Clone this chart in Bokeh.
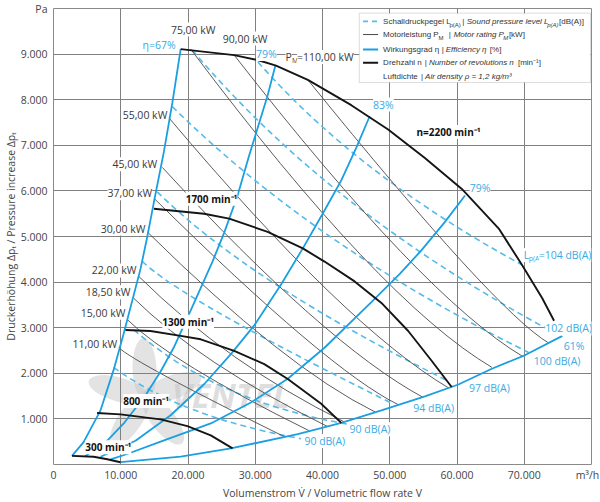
import math
from bokeh.plotting import figure
from bokeh.models import Label, BoxAnnotation, FixedTicker, Range1d, Arrow
from bokeh.embed import file_html
from bokeh.resources import INLINE

# ---------------- data ----------------
x_ticks = [0, 10000, 20000, 30000, 40000, 50000, 60000, 70000]
x_tick_labels = ["0", "10.000", "20.000", "30.000", "40.000", "50.000", "60.000", "70.000"]
x_unit_pos = 79400
x_unit_label = "m³/h"
y_ticks = [1000, 2000, 3000, 4000, 5000, 6000, 7000, 8000, 9000]
y_tick_labels = ["1.000", "2.000", "3.000", "4.000", "5.000", "6.000", "7.000", "8.000", "9.000"]
y_unit_pos = 10000
y_unit_label = "Pa"

# speed curves (m3/h, Pa)
n2200_x = [18910, 26866, 30358, 33090, 37821, 44284, 49761, 55224, 60716, 66209, 69672, 72657, 74433]
n2200_y = [9109, 8978, 8870, 8746, 8435, 7880, 7348, 6720, 6043, 5174, 4376, 3652, 3152]
n1700_x = [14925, 22388, 26119, 31851, 37075, 40299, 44776, 48761, 52746, 56224, 59209]
n1700_y = [5609, 5500, 5391, 5102, 4739, 4450, 4015, 3543, 2928, 2276, 1700]
n1300_x = [10700, 14433, 18910, 21896, 26866, 31343, 34836, 39806, 42791]
n1300_y = [2950, 2928, 2820, 2746, 2493, 2202, 1876, 1333, 913]
n800_x = [6478, 9955, 15925, 19910, 23388, 26627]
n800_y = [1130, 1100, 990, 840, 640, 354]
n300_x = [2746, 5970, 8000, 9955]
n300_y = [190, 170, 115, 50]

# efficiency curves
e67_x = [2746, 4478, 6970, 8955, 10448, 12940, 13940, 14925, 16418, 17672, 18910]
e67_y = [190, 490, 1180, 2080, 2880, 4290, 4990, 5750, 6860, 7930, 9109]
e79l_x = [4700, 7716, 10552, 13687, 15925, 17866, 20403, 23642, 25373, 27373, 29060, 29851, 31851, 32985]
e79l_y = [180, 480, 920, 1520, 2040, 2560, 3380, 4450, 5080, 5900, 6760, 7140, 8100, 8746]
e83_x = [7000, 12194, 17418, 22388, 26373, 29851, 33881, 37075, 40299, 42791, 45030, 47015]
e83_y = [170, 520, 1080, 1760, 2420, 3050, 3960, 4740, 5570, 6230, 6950, 7637]
e79r_x = [8500, 10955, 15925, 23388, 29358, 34836, 40299, 47269, 51493, 54731, 58209, 61194]
e79r_y = [112, 230, 500, 900, 1360, 1880, 2560, 3560, 4180, 4700, 5320, 5898]
e61_x = [9955, 18910, 26373, 36328, 42791, 48761, 55224, 60209, 65179, 70149, 75672]
e61_y = [50, 174, 354, 665, 913, 1189, 1493, 1754, 2100, 2400, 2820]

# motor power lines (start, bend, end)
pm_kw = [11, 15, 18.5, 22, 30, 37, 45, 55, 75, 90, 110]
pm_x0 = [9701, 10955, 11895, 12686, 13940, 15030, 16179, 17164, 20403, 26866, 37821]
pm_y0 = [2565, 3181, 3652, 4124, 5102, 5826, 6516, 7602, 9109, 8979, 8435]
pm_cx = [11925, 17388, 21746, 25925, 34313, 40790, 40342, 43357, 48462, 54894, 65730]
pm_cy = [2241, 2244, 2217, 2196, 2135, 2074, 2643, 3024, 3591, 3672, 3352]
pm_x1 = [34282, 38013, 40700, 43237, 47864, 51297, 54879, 58759, 65177, 69804, 73640]
pm_y1 = [613, 741, 837, 935, 1148, 1309, 1478, 1678, 2131, 2367, 2663]

# sound pressure lines
lp_db = [104, 102, 100, 97, 94, 90, 90]
lp_x0 = [30402, 20656, 17671, 15432, 13194, 11940, 8955]
lp_y0 = [8827, 9087, 7848, 5979, 4457, 2957, 2131]
lp_cx = [45357, 40566, 38700, 29119, 18820, 24134, 18910]
lp_cy = [6322, 5607, 4785, 3985, 3637, 1370, 1044]
lp_x1 = [69714, 73091, 70654, 58759, 50253, 44284, 36821]
lp_y1 = [4376, 3000, 2457, 1826, 1348, 870, 565]

# label anchors
kw_text = ["11,00 kW", "15,00 kW", "18,50 kW", "22,00 kW", "30,00 kW", "37,00 kW", "45,00 kW", "55,00 kW", "75,00 kW", "90,00 kW"]
kw_lx = [9462, 10701, 11447, 12343, 13686, 14686, 15432, 16925, 20776, 28492]
kw_ly = [2637, 3326, 3776, 4255, 5174, 5950, 6587, 7674, 9537, 9342]
kw_align = ["right"] * 8 + ["center", "center"]

eta_text = ["η=67%", "79%", "83%", "79%", "61%"]
eta_lx = [18164, 30100, 47521, 61894, 75879]
eta_ly = [9196, 9000, 7892, 6059, 2602]
eta_align = ["right", "left", "left", "left", "left"]

rpm_text = ["n=2200 min⁻¹", "1700 min⁻¹", "1300 min⁻¹", "800 min⁻¹", "300 min⁻¹"]
rpm_lx = [53984, 19656, 16179, 10358, 4731]
rpm_ly = [7290, 5826, 3131, 1391, 376]

db_text = ["102 dB(A)", "100 dB(A)", "97 dB(A)", "94 dB(A)", "90 dB(A)", "90 dB(A)"]
db_lx = [73132, 71401, 61789, 53491, 44029, 37313]
db_ly = [2985, 2276, 1681, 1239, 772, 515]

# ---------------- styles ----------------
BLUE = "#1a9fe2"
LBLUE = "#55bbea"
TBLUE = "#3aaae4"
GRAY = "#4a4a4a"
FONT = "Open Sans"
LFONT = "Liberation Sans"
AXC = "#454545"

p = figure(width=600, height=502, x_range=Range1d(0, 80000), y_range=Range1d(0, 10000),
           output_backend="svg", toolbar_location=None,
           min_border_left=53, min_border_right=9, min_border_top=8, min_border_bottom=34)
p.outline_line_color = "#8a8a8a"
p.outline_line_width = 1
p.background_fill_color = "white"
p.border_fill_color = "white"

p.xaxis.ticker = FixedTicker(ticks=x_ticks + [x_unit_pos])
ov = {t: s for t, s in zip(x_ticks, x_tick_labels)}
ov[x_unit_pos] = x_unit_label
p.xaxis.major_label_overrides = ov
p.yaxis.ticker = FixedTicker(ticks=y_ticks + [y_unit_pos])
ov = {t: s for t, s in zip(y_ticks, y_tick_labels)}
ov[y_unit_pos] = y_unit_label
p.yaxis.major_label_overrides = ov
for ax in (p.xaxis[0], p.yaxis[0]):
    ax.axis_line_color = None
    ax.major_tick_line_color = None
    ax.minor_tick_line_color = None
    ax.major_tick_out = 0
    ax.major_tick_in = 0
    ax.minor_tick_out = 0
    ax.minor_tick_in = 0
    ax.major_label_text_font = FONT
    ax.major_label_text_font_size = "10.5px"
    ax.major_label_text_color = AXC
    ax.axis_label_text_font = FONT
    ax.axis_label_text_font_size = "10.5px"
    ax.axis_label_text_font_style = "normal"
    ax.axis_label_text_color = AXC
p.xaxis.major_label_standoff = 3
p.yaxis.major_label_standoff = 6
p.xaxis.axis_label = "Volumenstrom V̇ / Volumetric flow rate V"
p.yaxis.axis_label = "Druckerhöhung Δpₜ / Pressure increase Δpₜ"
p.xaxis.axis_label_standoff = 1
p.yaxis.axis_label_standoff = 0

p.xgrid.ticker = FixedTicker(ticks=x_ticks[1:])
p.ygrid.ticker = FixedTicker(ticks=y_ticks)
p.grid.grid_line_color = "#808080"
p.grid.grid_line_width = 1
p.grid.grid_line_alpha = 1

# watermark (logo, decoration)
wm_x = [17611, 13537, 9671, 11343, 16253]
wm_y = [1687, 2087, 1646, 974, 998]
wm_a = [20, 92, 164, 236, 308]
p.ellipse(x=wm_x, y=wm_y, width=62, height=24, angle=[math.radians(a) for a in wm_a],
          width_units="screen", height_units="screen", fill_color="#c8c8c8", fill_alpha=0.5,
          line_color=None, level="underlay")
p.add_layout(Label(x=26373, y=1522, text="VENTEL", text_font=FONT, text_font_size="34px",
                   text_font_style="bold italic", text_color="#c8c8c8", text_alpha=0.6,
                   text_align="center", text_baseline="middle", level="underlay"))

# sound lines
p.quadratic(x0=lp_x0, y0=lp_y0, x1=lp_x1, y1=lp_y1, cx=lp_cx, cy=lp_cy,
            line_color=LBLUE, line_width=1.6, line_dash="6 4")
# power lines
p.quadratic(x0=pm_x0, y0=pm_y0, x1=pm_x1, y1=pm_y1, cx=pm_cx, cy=pm_cy,
            line_color=GRAY, line_width=0.9)
# efficiency lines
for xs, ys in [(e67_x, e67_y), (e79l_x, e79l_y), (e83_x, e83_y), (e79r_x, e79r_y), (e61_x, e61_y)]:
    p.line(xs, ys, line_color=BLUE, line_width=1.8)
# speed lines
for xs, ys in [(n2200_x, n2200_y), (n1700_x, n1700_y), (n1300_x, n1300_y), (n800_x, n800_y), (n300_x, n300_y)]:
    p.line(xs, ys, line_color="#151515", line_width=1.9)


def lab(x, y, text, size="10px", color="#333333", style="normal", align="left",
        base="middle", bg=None, font=FONT, angle=0.0):
    l = Label(x=x, y=y, text=text, text_font=font, text_font_size=size, text_color=color,
              text_font_style=style, text_align=align, text_baseline=base, angle=angle)
    if bg:
        l.background_fill_color = bg
    p.add_layout(l)


for t, x, y, a in zip(kw_text, kw_lx, kw_ly, kw_align):
    lab(x, y, t, size="10.5px", color="#3a3a3a", align=a, bg="white")
# P_M = 110 kW
lab(34500, 8935, "P", size="10.5px", color="#3a3a3a", bg="white")
lab(35470, 8860, "M", size="7px", color="#3a3a3a")
lab(36216, 8935, "=110,00 kW", size="10.5px", color="#3a3a3a", bg="white")

for t, x, y, a in zip(eta_text, eta_lx, eta_ly, eta_align):
    lab(x, y, t, size="10.5px", color=TBLUE, align=a, bg="white")
for t, x, y in zip(rpm_text, rpm_lx, rpm_ly):
    lab(x, y, t, size="10px", color="#111111", style="bold", bg="white")
for t, x, y in zip(db_text, db_lx, db_ly):
    lab(x, y, t, size="10.5px", color=TBLUE, bg="white")
lab(69909, 4594, "L", size="10.5px", color=TBLUE, bg="white")
lab(70655, 4510, "p(A)", size="7px", color=TBLUE)
lab(72147, 4594, "=104 dB(A)", size="10.5px", color=TBLUE, bg="white")

# legend
p.add_layout(BoxAnnotation(left=45476, right=79848, bottom=8376, top=9898,
                           fill_color="white", fill_alpha=1, line_color="#8a8a8a", line_width=1))
leg_y = [9718, 9429, 9103, 8811, 8507]
for yy, col, w, dash in [(leg_y[0], LBLUE, 1.6, "5 4"), (leg_y[1], GRAY, 1, "solid"),
                         (leg_y[2], BLUE, 2, "solid"), (leg_y[3], "#151515", 2, "solid")]:
    p.add_layout(Arrow(end=None, x_start=46030, y_start=yy, x_end=48268, y_end=yy,
                       line_color=col, line_width=w, line_dash=dash))
LC = "#333333"
SUB = 75
MAIN = "8px"
SMALL = "6px"
rows = [
    [(49013, 0, "Schalldruckpegel L", "normal", MAIN), (58879, 1, "p(A)", "normal", SMALL),
     (60774, 0, "|", "normal", MAIN), (61446, 0, "Sound pressure level L", "italic", MAIN),
     (73416, 1, "p(A)", "italic", SMALL), (75177, 0, "[dB(A)]", "normal", MAIN)],
    [(49013, 0, "Motorleistung P", "normal", MAIN), (57267, 1, "M", "normal", SMALL),
     (58760, 0, "|", "normal", MAIN), (59506, 0, "Motor rating P", "italic", MAIN),
     (66894, 1, "M", "italic", SMALL), (67715, 0, "[kW]", "normal", MAIN)],
    [(49013, 0, "Wirkungsgrad η", "normal", MAIN), (57716, 0, "|", "normal", MAIN),
     (58313, 0, "Efficiency η", "italic", MAIN), (64880, 0, "[%]", "normal", MAIN)],
    [(49013, 0, "Drehzahl n", "normal", MAIN), (55223, 0, "|", "normal", MAIN),
     (55820, 0, "Number of revolutions n", "italic", MAIN), (69059, 0, "[min⁻¹]", "normal", MAIN)],
    [(49013, 0, "Luftdichte", "normal", MAIN), (54655, 0, "|", "normal", MAIN),
     (55252, 0, "Air density ρ = 1,2 kg/m³", "italic", MAIN)],
]
for yy, row in zip(leg_y, rows):
    for x, s, t, st, sz in row:
        lab(x, yy - SUB * s, t, size=sz, color=LC, style=st, font=LFONT)

open("out.html", "w").write(file_html(p, INLINE))
